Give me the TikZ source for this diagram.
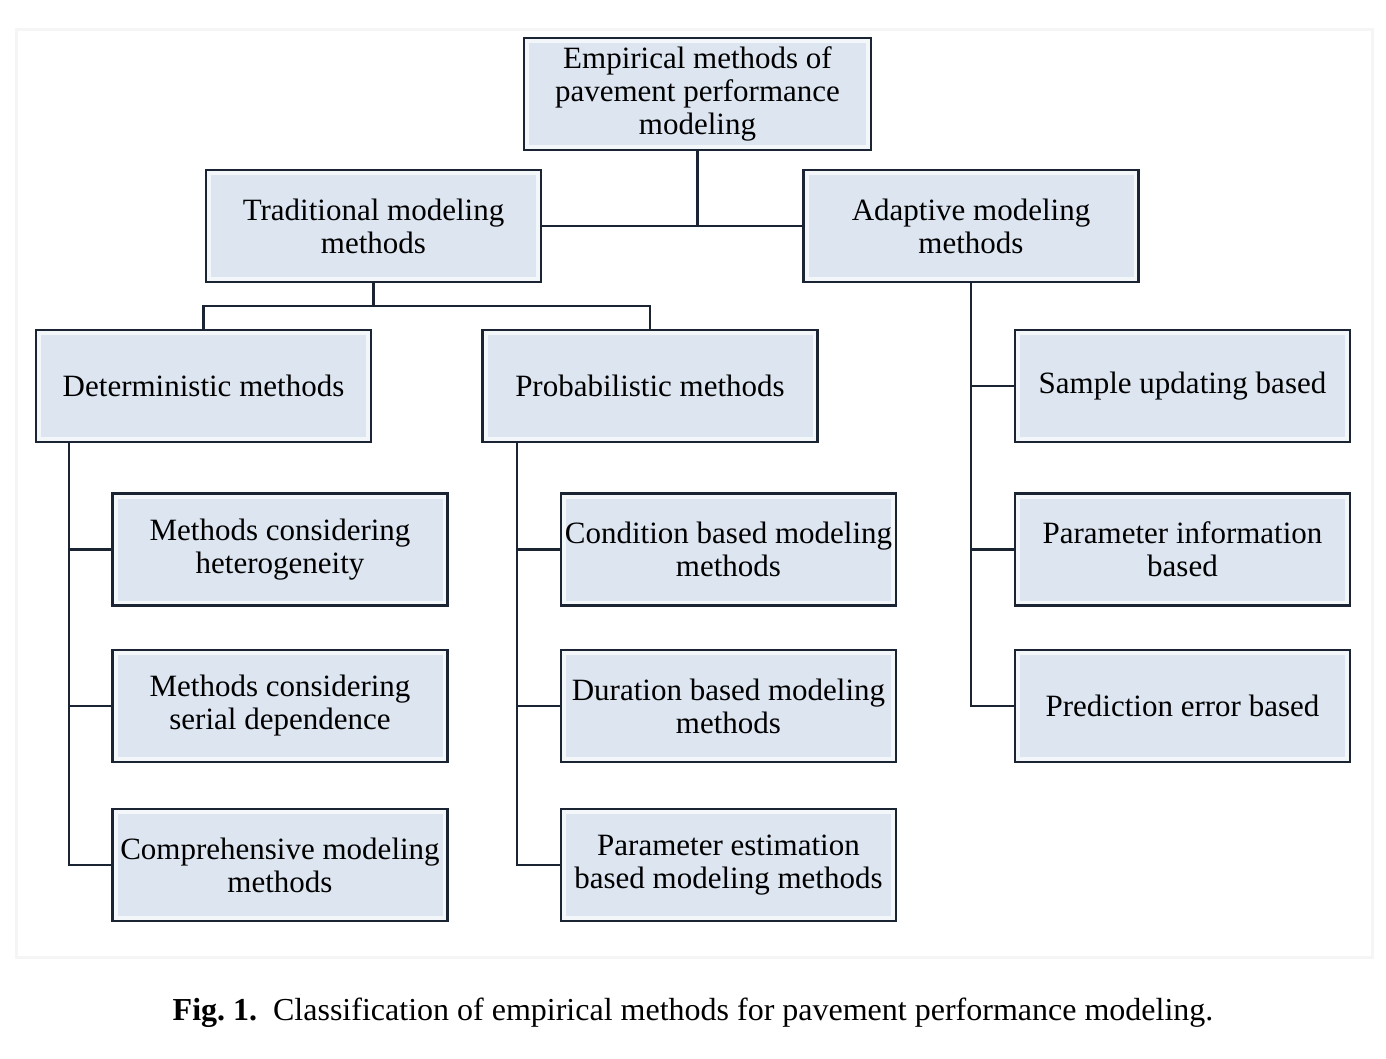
\documentclass[tikz,border=0pt]{standalone}
\usepackage{fontspec}
\setmainfont{Liberation Serif}
\definecolor{boxblue}{HTML}{DCE5F0}
\definecolor{edgecol}{HTML}{1B2433}
\begin{document}
\begin{tikzpicture}[x=0.5pt,y=-0.5pt,
  mbox/.style={draw=edgecol, line width=1.3pt, fill=boxblue,
    minimum width=167.5pt, minimum height=56pt, align=center,
    inner sep=0pt, font=\fontsize{15.5}{16.5}\selectfont,
    path picture={\draw[white,line width=5pt,opacity=0.7]
      (path picture bounding box.south west) rectangle (path picture bounding box.north east);}},
  conn/.style={draw=edgecol, line width=1.3pt}]
\useasboundingbox (0,0) rectangle (1386,1059);
\draw[black!4, line width=1.5pt] (16,30) rectangle (1372,957);
% nodes
\node[mbox, minimum width=173.5pt] (root) at (697.5,94) {Empirical methods of\\pavement performance\\modeling};
\node[mbox] (trad) at (373.5,226) {Traditional modeling\\methods};
\node[mbox] (adap) at (971,226) {Adaptive modeling\\methods};
\node[mbox] (det) at (203.5,386) {Deterministic methods};
\node[mbox] (prob) at (650,386) {Probabilistic methods};
\node[mbox] (samp) at (1182.5,386) {Sample updating based};
\node[mbox] (het) at (280,549.5) {Methods considering\\heterogeneity};
\node[mbox] (ser) at (280,706) {Methods considering\\serial dependence};
\node[mbox] (comp) at (280,865) {Comprehensive modeling\\methods};
\node[mbox] (cond) at (728.5,549.5) {Condition based modeling\\methods};
\node[mbox] (dur) at (728.5,706) {Duration based modeling\\methods};
\node[mbox] (pest) at (728.5,865) {Parameter estimation\\based modeling methods};
\node[mbox] (pinf) at (1182.5,549.5) {Parameter information\\based};
\node[mbox] (perr) at (1182.5,706) {Prediction error based};
% connectors
\coordinate (j0) at (697.5,226);
\coordinate (j1) at (373.5,306);
\coordinate (dv) at (69,442);
\coordinate (pv) at (517,442);
\draw[conn] (root.south) -- (j0);
\draw[conn] (trad.east) -- (adap.west);
\draw[conn] (trad.south) -- (j1);
\draw[conn] (det.north) -- (det.north |- j1) -- (prob.north |- j1) -- (prob.north);
\draw[conn] (dv) |- (het.west);
\draw[conn] (dv) |- (ser.west);
\draw[conn] (dv) |- (comp.west);
\draw[conn] (pv) |- (cond.west);
\draw[conn] (pv) |- (dur.west);
\draw[conn] (pv) |- (pest.west);
\draw[conn] (adap.south) |- (samp.west);
\draw[conn] (adap.south) |- (pinf.west);
\draw[conn] (adap.south) |- (perr.west);
% caption
\node[font=\fontsize{16}{19}\selectfont, anchor=base] (cap) at (693,1020) {\textbf{Fig.~1.}\ \ Classification of empirical methods for pavement performance modeling.};
\end{tikzpicture}
\end{document}
